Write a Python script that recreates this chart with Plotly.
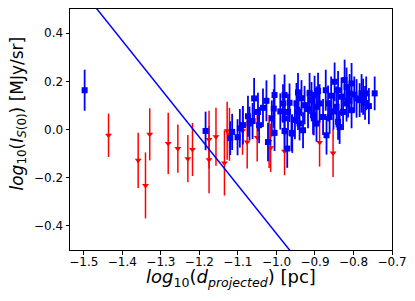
import plotly.graph_objects as go

# Blue squares: log10(d_projected), log10(I_S(0)), error
blue_x = [-1.498, -1.184, -1.120, -1.101, -1.087, -1.074, -1.070, -1.058, -1.048, -1.045,
          -1.026, -1.022, -1.012, -1.007, -1.005, -1.005, -0.983, -0.979, -0.979, -0.979,
          -0.972, -0.970, -0.966, -0.961, -0.959, -0.948, -0.944, -0.944, -0.940, -0.931,
          -0.927, -0.914, -0.909, -0.905, -0.903, -0.901, -0.896, -0.896, -0.888, -0.879,
          -0.872, -0.870, -0.866, -0.862, -0.849, -0.844, -0.840, -0.840, -0.836, -0.831,
          -0.827, -0.823, -0.818, -0.818, -0.810, -0.805, -0.805, -0.792, -0.784, -0.779,
          -0.775, -0.767, -0.760, -0.745, -1.115, -1.095, -1.062, -1.035, -0.990, -0.952,
          -0.935, -0.918, -0.892, -0.858, -0.852, -0.814, -0.798, -0.770]
blue_y = [0.163, -0.006, -0.036, -0.032, 0.018, 0.055, 0.025, 0.129, 0.073, 0.018,
          0.119, -0.052, 0.046, 0.087, 0.143, -0.014, 0.108, 0.143, 0.046, -0.006,
          -0.079, 0.073, 0.111, -0.014, -0.017, 0.108, 0.154, 0.073, 0.025, -0.003,
          0.101, 0.150, 0.122, 0.059, 0.046, 0.143, 0.025, 0.094, 0.108, 0.052,
          0.163, -0.024, 0.108, 0.052, 0.198, 0.094, 0.163, 0.032, 0.010, 0.136,
          0.073, 0.205, 0.177, 0.108, 0.150, 0.191, 0.080, 0.129, 0.122, 0.150,
          0.136, 0.150, 0.097, 0.150, -0.010, 0.005, 0.035, 0.090, 0.075, 0.040,
          0.130, 0.085, 0.160, 0.140, 0.075, 0.120, 0.145, 0.110]
blue_err = [0.085, 0.080, 0.070, 0.075, 0.080, 0.085, 0.070, 0.085, 0.080, 0.075,
            0.085, 0.080, 0.075, 0.080, 0.085, 0.075, 0.080, 0.085, 0.070, 0.080,
            0.080, 0.075, 0.080, 0.075, 0.080, 0.085, 0.080, 0.075, 0.070, 0.075,
            0.080, 0.085, 0.075, 0.080, 0.070, 0.080, 0.075, 0.085, 0.080, 0.075,
            0.085, 0.080, 0.075, 0.070, 0.080, 0.085, 0.080, 0.075, 0.070, 0.080,
            0.075, 0.085, 0.080, 0.075, 0.080, 0.085, 0.075, 0.080, 0.070, 0.080,
            0.075, 0.070, 0.075, 0.070, 0.075, 0.080, 0.075, 0.080, 0.075, 0.080,
            0.075, 0.080, 0.075, 0.080, 0.075, 0.070, 0.075, 0.070]

# Red triangles
red_x = [-1.436, -1.359, -1.340, -1.329, -1.281, -1.256, -1.230, -1.218, -1.175, -1.175,
         -1.157, -1.135, -1.128, -1.122, -1.088, -1.076, -1.050, -1.019, -1.015, -0.979,
         -0.888, -0.853]
red_y = [-0.024, -0.128, -0.232, -0.020, -0.058, -0.079, -0.121, -0.083, -0.042, -0.125,
         -0.030, -0.139, -0.005, -0.020, -0.005, -0.052, -0.033, -0.050, -0.076, -0.090,
         -0.054, -0.097]
red_err = [0.090, 0.115, 0.137, 0.108, 0.127, 0.100, 0.098, 0.110, 0.120, 0.140,
           0.120, 0.135, 0.120, 0.110, 0.100, 0.110, 0.100, 0.110, 0.100, 0.100,
           0.100, 0.100]

# Fitted line: y = slope * x + intercept
line_x = [-1.6, -0.9]
line_slope = -2.0
line_intercept = -2.432
line_y = [line_slope * v + line_intercept for v in line_x]

x_ticks = [-1.5, -1.4, -1.3, -1.2, -1.1, -1.0, -0.9, -0.8, -0.7]
y_ticks = [-0.4, -0.2, 0.0, 0.2, 0.4]

x_title = "<i>log</i><sub>10</sub>(<i>d</i><sub><i>projected</i></sub>) [pc]"
y_title = "<i>log</i><sub>10</sub>(<i>I</i><sub><i>S</i>(0)</sub>) [MJy/sr]"

fig = go.Figure()
fig.add_trace(go.Scatter(
    x=red_x, y=red_y, mode="markers",
    error_y=dict(type="data", array=red_err, color="red", thickness=1.5, width=0),
    marker=dict(symbol="triangle-down", color="red", size=6),
    showlegend=False))
fig.add_trace(go.Scatter(
    x=blue_x, y=blue_y, mode="markers",
    error_y=dict(type="data", array=blue_err, color="blue", thickness=1.8, width=0),
    marker=dict(symbol="square", color="blue", size=6),
    showlegend=False))
fig.add_trace(go.Scatter(
    x=line_x, y=line_y, mode="lines",
    line=dict(color="blue", width=1.5), showlegend=False))

axis_common = dict(showline=True, linecolor="black", linewidth=1, mirror=True,
                   ticks="outside", ticklen=3.5, tickcolor="black", showgrid=False,
                   zeroline=False, tickfont=dict(family="DejaVu Sans", size=12, color="black"))

fig.update_xaxes(range=[-1.536, -0.7], tickvals=x_ticks,
                 ticktext=[f"{v:.1f}".replace("-", "\u2212") for v in x_ticks],
                 ticklabelstandoff=-3,
                 **axis_common)
fig.update_yaxes(range=[-0.5, 0.5], tickvals=y_ticks,
                 ticktext=[f"{v:.1f}".replace("-", "\u2212") for v in y_ticks],
                 **axis_common)

fig.add_annotation(text=x_title, xref="paper", yref="paper", x=0.5, y=0,
                   xanchor="center", yanchor="top", yshift=-14, showarrow=False,
                   font=dict(family="DejaVu Sans", size=18, color="black"))
fig.add_annotation(text=y_title, xref="paper", yref="paper", x=0, y=0.5,
                   xanchor="center", yanchor="middle", xshift=-52, yshift=16,
                   textangle=-90, showarrow=False,
                   font=dict(family="DejaVu Sans", size=17, color="black"))

fig.update_layout(width=415, height=301, margin=dict(l=70, r=23, t=9, b=51),
                  plot_bgcolor="white", paper_bgcolor="white")

fig.write_html("out.html", config={"displayModeBar": False},
               post_script="document.body.style.margin='0';document.body.style.overflow='hidden';")
